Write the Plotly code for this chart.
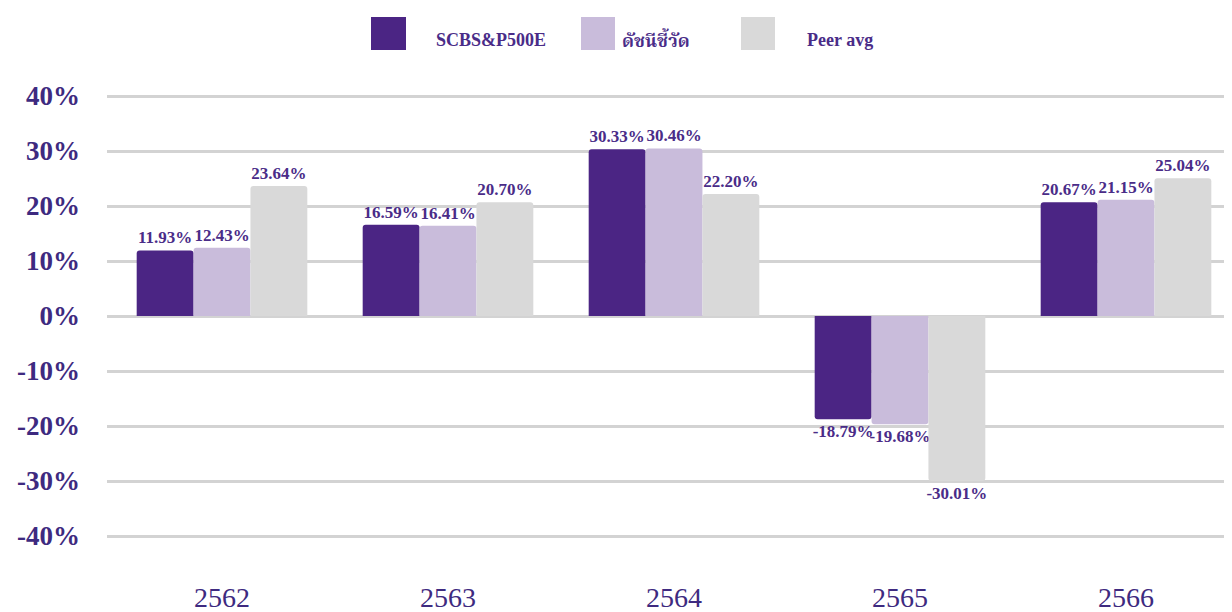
import plotly.graph_objects as go

categories = ["2562", "2563", "2564", "2565", "2566"]
series_names = ["SCBS&P500E", "ดัชนีชี้วัด", "Peer avg"]
fund_values = [11.93, 16.59, 30.33, -18.79, 20.67]
benchmark_values = [12.43, 16.41, 30.46, -19.68, 21.15]
peer_values = [23.64, 20.70, 22.20, -30.01, 25.04]
y_tick_values = [-40, -30, -20, -10, 0, 10, 20, 30, 40]
y_tick_labels = ["-40%", "-30%", "-20%", "-10%", "0%", "10%", "20%", "30%", "40%"]

colors = ["#4b2584", "#c9bcdb", "#d9d9d9"]
text_color = "#4a2c88"
font_family = "Liberation Serif, Times New Roman, Noto Serif Thai, Noto Sans Thai, serif"

OFF = 8  # page body margin
W, H = 1232 - OFF, 612 - OFF
L, R, T, B = 99, 0, 66, 54

fig = go.Figure()
for name, vals, col in zip(series_names, [fund_values, benchmark_values, peer_values], colors):
    fig.add_trace(go.Bar(
        x=categories, y=vals, name=name, marker=dict(color=col, line=dict(width=0), cornerradius=3),
        text=[f"<b>{v:.2f}%</b>" for v in vals], textposition="outside",
        textfont=dict(family=font_family, size=17, color=text_color),
        constraintext="none", cliponaxis=False, showlegend=False,
    ))

# Manual legend (large swatches); pixel positions in page coordinates
pw, ph = W - L - R, H - T - B
def px_x(x):
    return (x - OFF - L) / pw
def px_y(y):
    return (H - B - (y - OFF)) / ph

legend_items = [(371, 406, 491), (581, 615, 656), (741, 775, 840)]
for (x0, x1, tx), name, col in zip(legend_items, series_names, colors):
    fig.add_shape(type="rect", xref="paper", yref="paper",
                  x0=px_x(x0), x1=px_x(x1), y0=px_y(50), y1=px_y(17),
                  fillcolor=col, line=dict(width=0))
    fig.add_annotation(xref="paper", yref="paper", x=px_x(tx), y=px_y(40),
                       text=f"<b>{name}</b>", showarrow=False, xanchor="center", yanchor="middle",
                       font=dict(family=font_family, size=18, color=text_color))

# category spacing of ~226 px; first category centre at page x ~222
spacing = 226.0
x_start = -(222 - OFF - L) / spacing
x_end = x_start + pw / spacing

fig.update_layout(
    width=W, height=H,
    margin=dict(l=L, r=R, t=T, b=B),
    paper_bgcolor="white", plot_bgcolor="white",
    barmode="group", bargap=0.245, bargroupgap=0,
    showlegend=False,
    font=dict(family=font_family, color=text_color),
)
fig.update_xaxes(
    range=[x_start, x_end],
    showgrid=False, showline=False, zeroline=False,
    tickfont=dict(family=font_family, size=28, color="#3e2a80"),
    ticklabelstandoff=20,
)
fig.update_yaxes(
    range=[-44, 44], tickvals=y_tick_values, ticktext=[f"<b>{t}</b>" for t in y_tick_labels],
    showgrid=True, gridcolor="#d3d3d3", gridwidth=3,
    zeroline=True, zerolinecolor="#d3d3d3", zerolinewidth=3,
    showline=False,
    tickfont=dict(family=font_family, size=27, color="#3e2a80"),
    ticklabelstandoff=26,
)

fig.write_html("out.html")
